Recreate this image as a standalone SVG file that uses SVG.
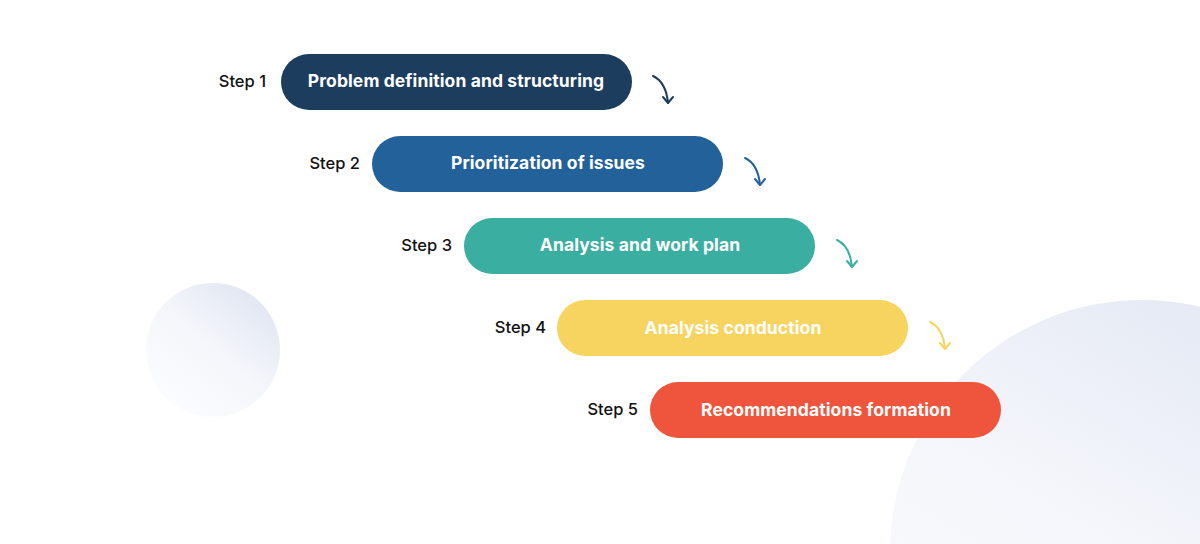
<svg xmlns="http://www.w3.org/2000/svg" width="1200" height="544" viewBox="0 0 1200 544">
<defs>
<linearGradient id="gBig" x1="0.8" y1="0" x2="0.2" y2="1">
<stop offset="0" stop-color="#e2e7f3"/>
<stop offset="0.5" stop-color="#f4f6fb"/>
<stop offset="1" stop-color="#fbfcfe"/>
</linearGradient>
<linearGradient id="gSmall" x1="0.85" y1="0.1" x2="0.2" y2="0.9">
<stop offset="0" stop-color="#e1e6f2"/>
<stop offset="0.5" stop-color="#f4f6fb"/>
<stop offset="1" stop-color="#fbfcfe"/>
</linearGradient>
<style>
.pill-text{font-family:"Inter","Noto Sans",sans-serif;font-weight:700;font-size:17.5px;fill:#ffffff;text-anchor:middle;letter-spacing:0.1px}
.step{font-family:"Inter","Noto Sans",sans-serif;font-weight:500;font-size:16.5px;fill:#111111;text-anchor:end}
.arr{fill:none;stroke-width:2;stroke-linecap:round;stroke-linejoin:round}
</style>
</defs>
<rect width="1200" height="544" fill="#ffffff"/>
<circle cx="1142" cy="552" r="252" fill="url(#gBig)"/>
<circle cx="213" cy="350" r="67" fill="url(#gSmall)"/>

<g id="node1">
<text class="step" x="266" y="87">Step 1</text>
<rect x="281" y="54" width="351" height="56" rx="28" fill="#1d3d5e"/>
<text class="pill-text" x="456" y="87">Problem definition and structuring</text>
</g>
<g id="node2">
<text class="step" x="360" y="169">Step 2</text>
<rect x="372" y="136" width="351" height="56" rx="28" fill="#23619b"/>
<text class="pill-text" x="548" y="169">Prioritization of issues</text>
</g>
<g id="node3">
<text class="step" x="452" y="251">Step 3</text>
<rect x="464" y="218" width="351" height="56" rx="28" fill="#3aaea1"/>
<text class="pill-text" x="640" y="251">Analysis and work plan</text>
</g>
<g id="node4">
<text class="step" x="546" y="333">Step 4</text>
<rect x="557" y="300" width="351" height="56" rx="28" fill="#f7d45f"/>
<text class="pill-text" x="733" y="334">Analysis conduction</text>
</g>
<g id="node5">
<text class="step" x="638" y="415">Step 5</text>
<rect x="650" y="382" width="351" height="56" rx="28" fill="#ef553c"/>
<text class="pill-text" x="826" y="416">Recommendations formation</text>
</g>

<g id="connectors">
<g stroke="#1d3d5e" class="arr"><path d="M653 76 Q666 82 668 103"/><path d="M663 97 L668 103 L673 97"/></g>
<g stroke="#23619b" class="arr"><path d="M745 158 Q758 164 760 185"/><path d="M755 179 L760 185 L765 179"/></g>
<g stroke="#3aaea1" class="arr"><path d="M837 240 Q850 246 852 267"/><path d="M847 261 L852 267 L857 261"/></g>
<g stroke="#f7d45f" class="arr"><path d="M930 322 Q943 328 945 349"/><path d="M940 343 L945 349 L950 343"/></g>
</g>
</svg>
